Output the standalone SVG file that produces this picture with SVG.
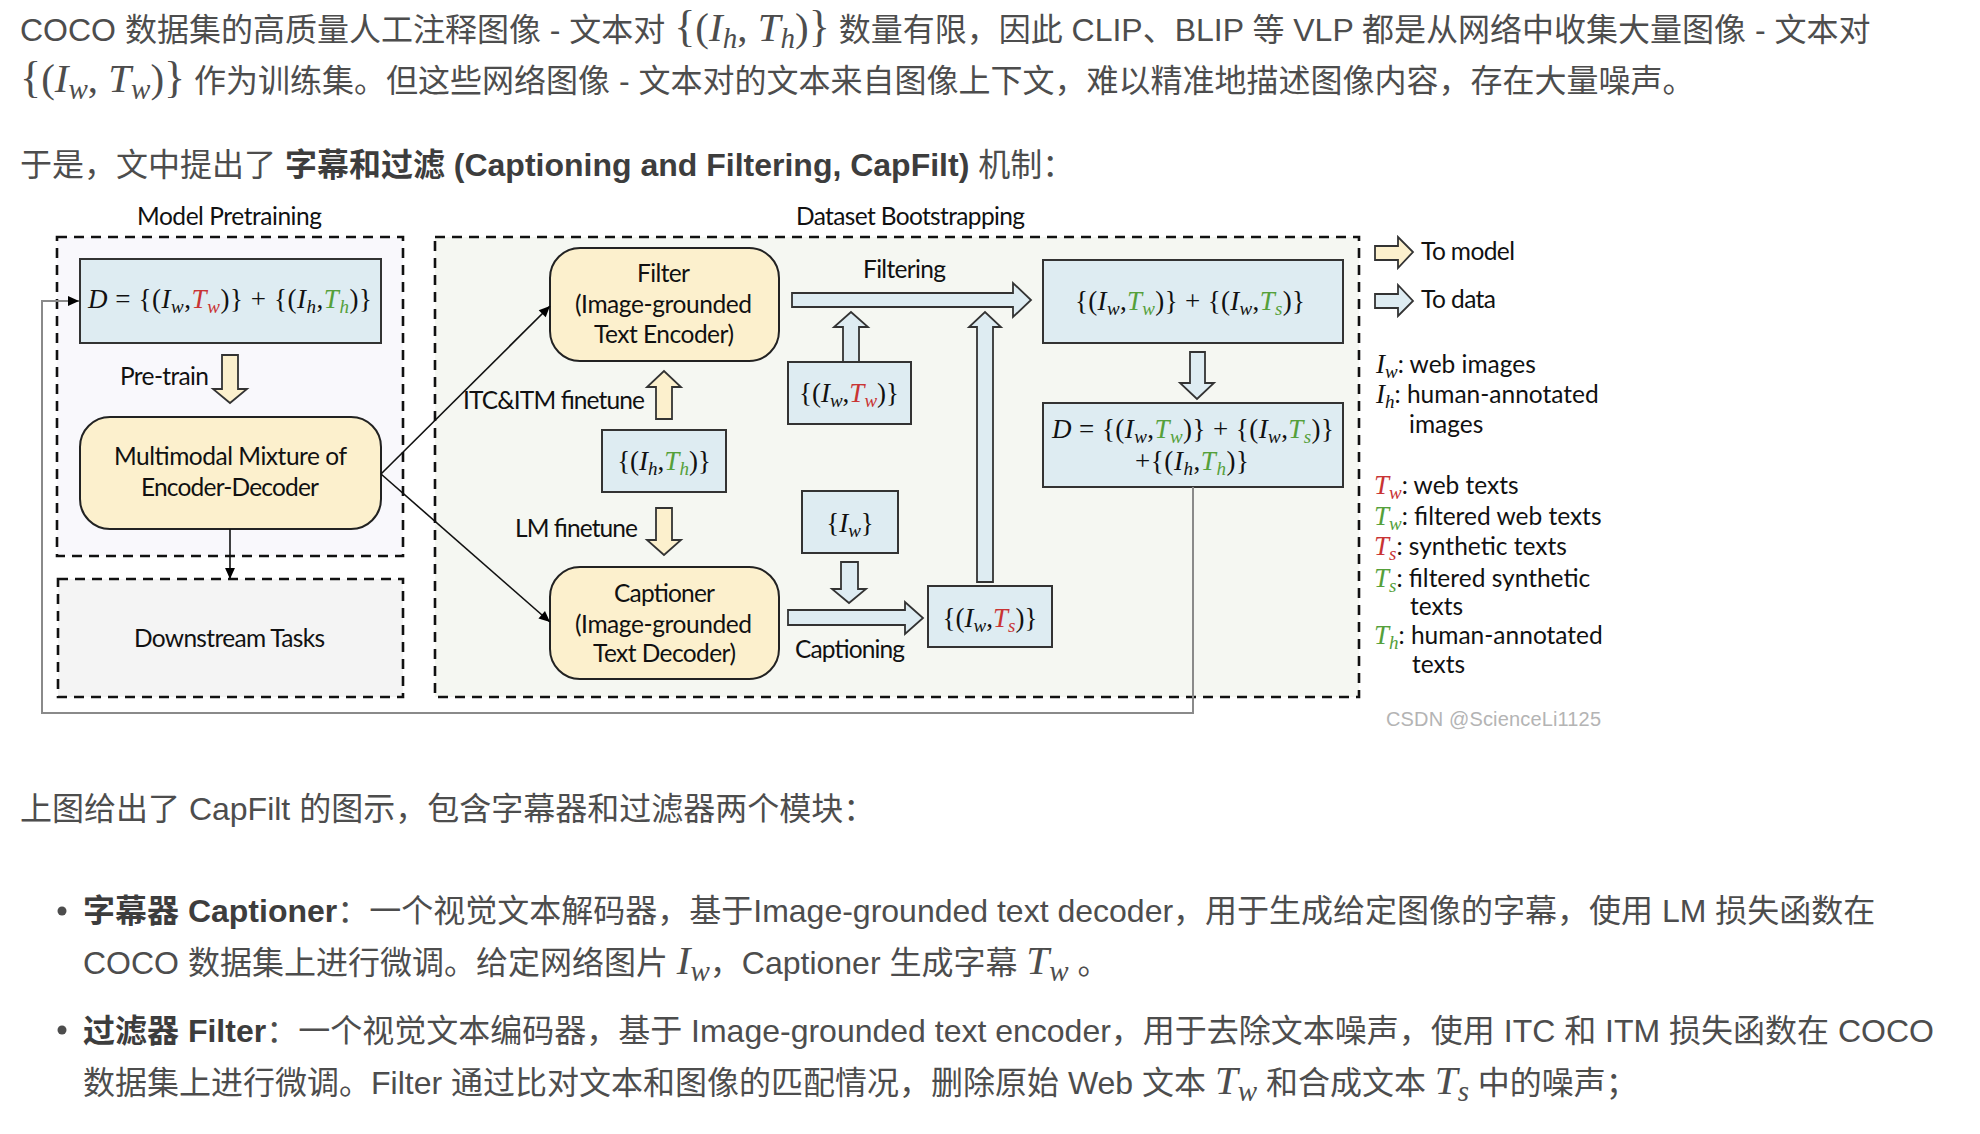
<svg xmlns="http://www.w3.org/2000/svg" width="1980" height="1134" viewBox="0 0 1980 1134">
<style>
.t{font-family:"Liberation Sans","Noto Sans CJK SC",sans-serif;font-size:32px;fill:#4d4d4d}
.b{font-weight:bold;fill:#3d3d3d}
.m{font-family:"Liberation Serif","DejaVu Serif",serif;font-size:41px}
.i{font-style:italic}
.br{font-size:44px}
.ms{font-size:29px}
.d{font-family:Lato,"Open Sans",sans-serif;font-size:24.5px;fill:#111}
.dm{font-family:"Liberation Serif","DejaVu Serif",serif;font-size:27px;fill:#111}
.ds{font-size:19px}
.red{fill:#c93434}
.grn{fill:#55a03a}
.dash{fill:none;stroke:#111;stroke-width:2.6;stroke-dasharray:10 7}
.bb{fill:#deecf2;stroke:#333;stroke-width:2}
.yb{fill:#fcf0cd;stroke:#222;stroke-width:2}
.ay{fill:#fcf0cd;stroke:#333;stroke-width:1.8;stroke-linejoin:miter}
.ab{fill:#deecf2;stroke:#333;stroke-width:1.8;stroke-linejoin:miter}
.ln{fill:none;stroke:#111;stroke-width:1.6}
.gl{fill:none;stroke:#8a8a8a;stroke-width:2}
.wm{font-family:"Liberation Sans",sans-serif;font-size:20px;fill:#b4b4b4}
</style>
<defs>
<marker id="ah" viewBox="0 0 10 10" refX="10" refY="5" markerWidth="12" markerHeight="11" markerUnits="userSpaceOnUse" orient="auto"><path d="M0,0.5 L10,5 L0,9.5 z" fill="#000"/></marker>
</defs>
<rect width="1980" height="1134" fill="#fff"/>

<!-- article text -->
<g id="para1">
<text class="t" x="20" y="41">COCO 数据集的高质量人工注释图像 - 文本对 <tspan class="m br">{</tspan><tspan class="m">(</tspan><tspan class="m i">I</tspan><tspan class="m i ms" dy="7">h</tspan><tspan class="m" dy="-7">, </tspan><tspan class="m i">T</tspan><tspan class="m i ms" dy="7">h</tspan><tspan class="m" dy="-7">)</tspan><tspan class="m br">}</tspan> 数量有限，因此 CLIP、BLIP 等 VLP 都是从网络中收集大量图像 - 文本对</text>
<text class="t" x="20" y="92"><tspan class="m br">{</tspan><tspan class="m">(</tspan><tspan class="m i">I</tspan><tspan class="m i ms" dy="7">w</tspan><tspan class="m" dy="-7">, </tspan><tspan class="m i">T</tspan><tspan class="m i ms" dy="7">w</tspan><tspan class="m" dy="-7">)</tspan><tspan class="m br">}</tspan> 作为训练集。但这些网络图像 - 文本对的文本来自图像上下文，难以精准地描述图像内容，存在大量噪声。</text>
<text class="t" x="20" y="176">于是，文中提出了 <tspan class="b">字幕和过滤 (Captioning and Filtering, CapFilt)</tspan> 机制：</text>
</g>

<!-- diagram containers -->
<g id="model-pretraining">
<rect x="57" y="237" width="346" height="319" fill="#f9f8fc"/>
<rect x="57" y="237" width="346" height="319" class="dash"/>
<text class="d" x="137" y="225" textLength="185">Model Pretraining</text>
</g>
<g id="dataset-bootstrapping">
<rect x="435" y="237" width="924" height="460" fill="#f5f7f2"/>
<rect x="435" y="237" width="924" height="460" class="dash"/>
<text class="d" x="796" y="225" textLength="229">Dataset Bootstrapping</text>
</g>
<g id="downstream">
<rect x="58" y="579" width="345" height="118" fill="#f4f4f4"/>
<rect x="58" y="579" width="345" height="118" class="dash"/>
<text class="d" x="134" y="647" textLength="191">Downstream Tasks</text>
</g>

<!-- nodes -->
<g id="d-pretrain">
<rect x="80" y="259" width="301" height="84" class="bb"/>
<text class="dm" x="88" y="308" textLength="284"><tspan class="i">D</tspan> = {(<tspan class="i">I</tspan><tspan class="i ds" dy="5">w</tspan><tspan dy="-5">,</tspan><tspan class="i red">T</tspan><tspan class="i ds red" dy="5">w</tspan><tspan dy="-5">)} + {(</tspan><tspan class="i">I</tspan><tspan class="i ds" dy="5">h</tspan><tspan dy="-5">,</tspan><tspan class="i grn">T</tspan><tspan class="i ds grn" dy="5">h</tspan><tspan dy="-5">)}</tspan></text>
</g>
<g id="pretrain-arrow">
<polygon class="ay" points="222,355 238,355 238,389 247,389 230,403 213,389 222,389"/>
<text class="d" x="120" y="385" textLength="89">Pre-train</text>
</g>
<g id="med">
<rect x="80" y="417" width="301" height="112" rx="30" class="yb"/>
<text class="d" x="114" y="465" textLength="233">Multimodal Mixture of</text>
<text class="d" x="141" y="496" textLength="178">Encoder-Decoder</text>
</g>
<g id="filter">
<rect x="550" y="248" width="229" height="113" rx="30" class="yb"/>
<text class="d" x="637" y="282" textLength="53">Filter</text>
<text class="d" x="575" y="313" textLength="177">(Image-grounded</text>
<text class="d" x="594" y="343" textLength="140">Text Encoder)</text>
</g>
<g id="itc-arrow">
<polygon class="ay" points="656,419 672,419 672,387 681,387 664,371 647,387 656,387"/>
<text class="d" x="463" y="409" textLength="182">ITC&amp;ITM finetune</text>
</g>
<g id="ih-th">
<rect x="602" y="430" width="124" height="62" class="bb"/>
<text class="dm" x="664" y="470" text-anchor="middle">{(<tspan class="i">I</tspan><tspan class="i ds" dy="5">h</tspan><tspan dy="-5">,</tspan><tspan class="i grn">T</tspan><tspan class="i ds grn" dy="5">h</tspan><tspan dy="-5">)}</tspan></text>
</g>
<g id="lm-arrow">
<polygon class="ay" points="656,508 672,508 672,540 681,540 664,555 647,540 656,540"/>
<text class="d" x="515" y="537" textLength="123">LM finetune</text>
</g>
<g id="captioner">
<rect x="550" y="567" width="229" height="112" rx="30" class="yb"/>
<text class="d" x="614" y="602" textLength="101">Captioner</text>
<text class="d" x="575" y="633" textLength="177">(Image-grounded</text>
<text class="d" x="593" y="662" textLength="143">Text Decoder)</text>
</g>
<g id="filtering-arrow">
<polygon class="ab" points="792,293 1013,293 1013,283 1031,300 1013,317 1013,307 792,307"/>
<text class="d" x="863" y="278" textLength="83">Filtering</text>
</g>
<g id="iw-tw-arrow">
<polygon class="ab" points="843,362 859,362 859,327 868,327 851,312 834,327 843,327"/>
</g>
<g id="iw-tw">
<rect x="788" y="362" width="123" height="62" class="bb"/>
<text class="dm" x="849" y="402" text-anchor="middle">{(<tspan class="i">I</tspan><tspan class="i ds" dy="5">w</tspan><tspan dy="-5">,</tspan><tspan class="i red">T</tspan><tspan class="i ds red" dy="5">w</tspan><tspan dy="-5">)}</tspan></text>
</g>
<g id="iw">
<rect x="802" y="491" width="96" height="62" class="bb"/>
<text class="dm" x="850" y="532" text-anchor="middle">{<tspan class="i">I</tspan><tspan class="i ds" dy="5">w</tspan><tspan dy="-5">}</tspan></text>
</g>
<g id="iw-down-arrow">
<polygon class="ab" points="841,562 858,562 858,589 866,589 849,603 832,589 841,589"/>
</g>
<g id="captioning-arrow">
<polygon class="ab" points="788,610 905,610 905,602 923,618 905,634 905,625 788,625"/>
<text class="d" x="795" y="658" textLength="110">Captioning</text>
</g>
<g id="iw-ts">
<rect x="928" y="586" width="124" height="61" class="bb"/>
<text class="dm" x="990" y="627" text-anchor="middle">{(<tspan class="i">I</tspan><tspan class="i ds" dy="5">w</tspan><tspan dy="-5">,</tspan><tspan class="i red">T</tspan><tspan class="i ds red" dy="5">s</tspan><tspan dy="-5">)}</tspan></text>
</g>
<g id="long-up-arrow">
<polygon class="ab" points="977,582 993,582 993,327 1001,327 985,312 969,327 977,327"/>
</g>
<g id="filtered">
<rect x="1043" y="260" width="300" height="83" class="bb"/>
<text class="dm" x="1075" y="310" textLength="230">{(<tspan class="i">I</tspan><tspan class="i ds" dy="5">w</tspan><tspan dy="-5">,</tspan><tspan class="i grn">T</tspan><tspan class="i ds grn" dy="5">w</tspan><tspan dy="-5">)} + {(</tspan><tspan class="i">I</tspan><tspan class="i ds" dy="5">w</tspan><tspan dy="-5">,</tspan><tspan class="i grn">T</tspan><tspan class="i ds grn" dy="5">s</tspan><tspan dy="-5">)}</tspan></text>
</g>
<g id="final-arrow">
<polygon class="ab" points="1190,352 1205,352 1205,383 1214,383 1197,399 1180,383 1190,383"/>
</g>
<g id="d-final">
<rect x="1043" y="403" width="300" height="84" class="bb"/>
<text class="dm" x="1052" y="438" textLength="282"><tspan class="i">D</tspan> = {(<tspan class="i">I</tspan><tspan class="i ds" dy="5">w</tspan><tspan dy="-5">,</tspan><tspan class="i grn">T</tspan><tspan class="i ds grn" dy="5">w</tspan><tspan dy="-5">)} + {(</tspan><tspan class="i">I</tspan><tspan class="i ds" dy="5">w</tspan><tspan dy="-5">,</tspan><tspan class="i grn">T</tspan><tspan class="i ds grn" dy="5">s</tspan><tspan dy="-5">)}</tspan></text>
<text class="dm" x="1135" y="470" textLength="114">+{(<tspan class="i">I</tspan><tspan class="i ds" dy="5">h</tspan><tspan dy="-5">,</tspan><tspan class="i grn">T</tspan><tspan class="i ds grn" dy="5">h</tspan><tspan dy="-5">)}</tspan></text>
</g>

<!-- connectors -->
<g id="connectors">
<path class="ln" d="M381,474 L550,306" marker-end="url(#ah)"/>
<path class="ln" d="M381,474 L550,622" marker-end="url(#ah)"/>
<path class="ln" d="M230,529 L230,579" marker-end="url(#ah)"/>
<path class="gl" d="M1193,487 L1193,713 L42,713 L42,301 L79,301" marker-end="url(#ah)"/>
</g>

<!-- legend -->
<g id="legend">
<polygon class="ay" points="1375,246 1398,246 1398,237 1413,252 1398,268 1398,260 1375,260"/>
<text class="d" x="1421" y="260" textLength="94">To model</text>
<polygon class="ab" points="1375,294 1398,294 1398,285 1413,301 1398,316 1398,308 1375,308"/>
<text class="d" x="1421" y="308" textLength="75">To data</text>
<text class="dm" x="1376" y="373"><tspan class="i">I</tspan><tspan class="i ds" dy="5">w</tspan><tspan class="d" dy="-5">: web images</tspan></text>
<text class="dm" x="1376" y="403"><tspan class="i">I</tspan><tspan class="i ds" dy="5">h</tspan><tspan class="d" dy="-5">: human-annotated</tspan></text>
<text class="d" x="1409" y="433">images</text>
<text class="dm" x="1374" y="494"><tspan class="i red">T</tspan><tspan class="i ds red" dy="5">w</tspan><tspan class="d" dy="-5">: web texts</tspan></text>
<text class="dm" x="1374" y="525"><tspan class="i grn">T</tspan><tspan class="i ds grn" dy="5">w</tspan><tspan class="d" dy="-5">: filtered web texts</tspan></text>
<text class="dm" x="1374" y="555"><tspan class="i red">T</tspan><tspan class="i ds red" dy="5">s</tspan><tspan class="d" dy="-5">: synthetic texts</tspan></text>
<text class="dm" x="1374" y="587"><tspan class="i grn">T</tspan><tspan class="i ds grn" dy="5">s</tspan><tspan class="d" dy="-5">: filtered synthetic</tspan></text>
<text class="d" x="1410" y="615">texts</text>
<text class="dm" x="1374" y="644"><tspan class="i grn">T</tspan><tspan class="i ds grn" dy="5">h</tspan><tspan class="d" dy="-5">: human-annotated</tspan></text>
<text class="d" x="1412" y="673">texts</text>
<text class="wm" x="1386" y="726" textLength="215">CSDN @ScienceLi1125</text>
</g>

<!-- lower article text -->
<g id="para2">
<text class="t" x="20" y="820">上图给出了 CapFilt 的图示，包含字幕器和过滤器两个模块：</text>
<circle cx="62" cy="911" r="4.5" fill="#4d4d4d"/>
<text class="t" x="83" y="922"><tspan class="b">字幕器 Captioner</tspan>：一个视觉文本解码器，基于Image-grounded text decoder，用于生成给定图像的字幕，使用 LM 损失函数在</text>
<text class="t" x="83" y="974">COCO 数据集上进行微调。给定网络图片 <tspan class="m i">I</tspan><tspan class="m i ms" dy="7">w</tspan><tspan dy="-7">，Captioner 生成字幕 </tspan><tspan class="m i">T</tspan><tspan class="m i ms" dy="7">w</tspan><tspan dy="-7"> 。</tspan></text>
<circle cx="62" cy="1030" r="4.5" fill="#4d4d4d"/>
<text class="t" x="83" y="1042"><tspan class="b">过滤器 Filter</tspan>：一个视觉文本编码器，基于 Image-grounded text encoder，用于去除文本噪声，使用 ITC 和 ITM 损失函数在 COCO</text>
<text class="t" x="83" y="1094">数据集上进行微调。Filter 通过比对文本和图像的匹配情况，删除原始 Web 文本 <tspan class="m i">T</tspan><tspan class="m i ms" dy="7">w</tspan><tspan dy="-7"> 和合成文本 </tspan><tspan class="m i">T</tspan><tspan class="m i ms" dy="7">s</tspan><tspan dy="-7"> 中的噪声；</tspan></text>
</g>
</svg>
